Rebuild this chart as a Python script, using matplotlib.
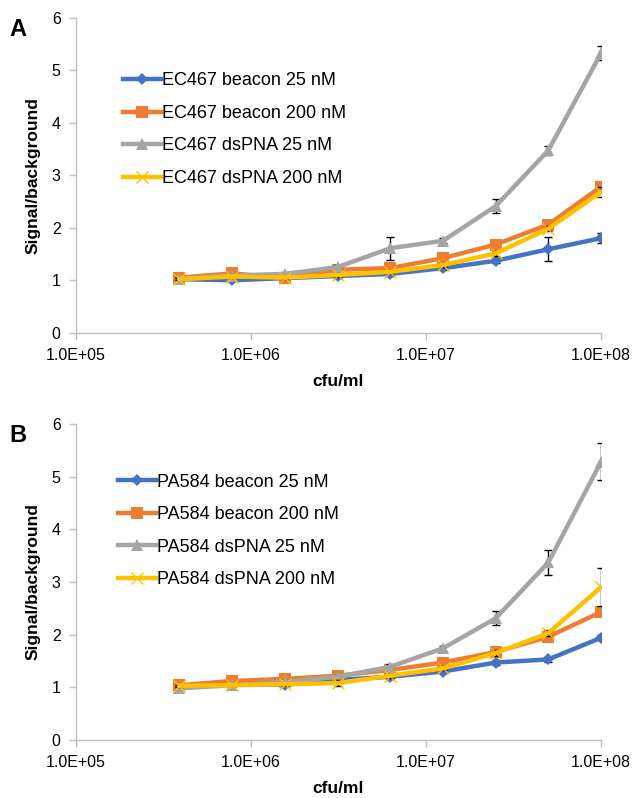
import matplotlib
matplotlib.use("Agg")
import matplotlib.pyplot as plt
import numpy as np

plt.rcParams['font.family'] = ['Liberation Sans', 'DejaVu Sans']

# x values (cfu/ml)
cfu = [3.90625e5, 7.8125e5, 1.5625e6, 3.125e6, 6.25e6, 1.25e7, 2.5e7, 5e7, 1e8]

# Panel A
a_labels = ["EC467 beacon 25 nM", "EC467 beacon 200 nM", "EC467 dsPNA 25 nM", "EC467 dsPNA 200 nM"]
a_beacon25 = [1.02, 1.00, 1.04, 1.08, 1.12, 1.23, 1.37, 1.59, 1.80]
a_beacon200 = [1.05, 1.13, 1.04, 1.20, 1.23, 1.42, 1.68, 2.06, 2.78]
a_dspna25 = [1.03, 1.09, 1.12, 1.25, 1.61, 1.75, 2.41, 3.47, 5.32]
a_dspna200 = [1.02, 1.07, 1.05, 1.10, 1.16, 1.29, 1.51, 1.98, 2.68]
a_err_beacon25 = [0.02, 0.02, 0.02, 0.03, 0.04, 0.03, 0.05, 0.23, 0.10]
a_err_beacon200 = [0.03, 0.03, 0.03, 0.03, 0.04, 0.04, 0.05, 0.05, 0.05]
a_err_dspna25 = [0.03, 0.03, 0.03, 0.04, 0.22, 0.05, 0.13, 0.09, 0.13]
a_err_dspna200 = [0.02, 0.02, 0.02, 0.03, 0.03, 0.04, 0.05, 0.05, 0.10]

# Panel B
b_labels = ["PA584 beacon 25 nM", "PA584 beacon 200 nM", "PA584 dsPNA 25 nM", "PA584 dsPNA 200 nM"]
b_beacon25 = [1.00, 1.06, 1.05, 1.14, 1.20, 1.30, 1.47, 1.53, 1.94]
b_beacon200 = [1.04, 1.12, 1.16, 1.22, 1.33, 1.47, 1.67, 1.96, 2.43]
b_dspna25 = [0.98, 1.04, 1.10, 1.20, 1.39, 1.74, 2.31, 3.37, 5.28]
b_dspna200 = [1.03, 1.04, 1.06, 1.08, 1.22, 1.36, 1.65, 2.03, 2.90]
b_err_beacon25 = [0.02, 0.02, 0.03, 0.03, 0.04, 0.03, 0.05, 0.04, 0.05]
b_err_beacon200 = [0.02, 0.02, 0.03, 0.03, 0.04, 0.04, 0.05, 0.05, 0.05]
b_err_dspna25 = [0.03, 0.03, 0.03, 0.04, 0.06, 0.05, 0.13, 0.24, 0.35]
b_err_dspna200 = [0.02, 0.02, 0.03, 0.06, 0.04, 0.04, 0.05, 0.05, 0.36]

x_ticks = [1e5, 1e6, 1e7, 1e8]
x_ticklabels = ["1.0E+05", "1.0E+06", "1.0E+07", "1.0E+08"]
y_ticks = [0, 1, 2, 3, 4, 5, 6]

colors = ["#4472C4", "#ED7D31", "#A5A5A5", "#FFC000"]
markers = ["D", "s", "^", "x"]
msizes = [6.5, 8.5, 8.5, 9]

fig = plt.figure(figsize=(6.38, 7.98), dpi=100)
axA = fig.add_axes([0.119, 0.583, 0.823, 0.395])
axB = fig.add_axes([0.119, 0.0727, 0.823, 0.396])

def draw(ax, series, errs, labels, leg_anchor, letter):
    handles = []
    for i, (vals, er) in enumerate(zip(series, errs)):
        ax.errorbar(cfu, vals, yerr=er, fmt='none', ecolor='black',
                    elinewidth=1.0, capsize=3, capthick=1.0, zorder=2 + i * 2)
        mkw = dict(markeredgewidth=1.0) if markers[i] == 'x' else dict(markeredgewidth=0)
        h, = ax.plot(cfu, vals, color=colors[i], lw=3.2, marker=markers[i],
                     ms=msizes[i], markerfacecolor=colors[i], markeredgecolor=colors[i],
                     label=labels[i], zorder=3 + i * 2, **mkw)
        handles.append(h)
    ax.set_xscale('log')
    ax.set_xlim(1e5, 1e8)
    ax.set_ylim(0, 6)
    ax.set_xticks(x_ticks)
    ax.set_xticklabels(x_ticklabels)
    ax.minorticks_off()
    ax.set_yticks(y_ticks)
    for s in ['top', 'right']:
        ax.spines[s].set_visible(False)
    for s in ['left', 'bottom']:
        ax.spines[s].set_color('#BFBFBF')
        ax.spines[s].set_linewidth(1.0)
    ax.tick_params(axis='both', colors='#BFBFBF', labelcolor='black',
                   labelsize=11.5, length=5, width=1.0, direction='out')
    ax.tick_params(axis='x', pad=6)
    ax.tick_params(axis='y', pad=6)
    ax.set_xlabel("cfu/ml", fontsize=12.5, fontweight='bold', labelpad=8)
    ax.set_ylabel("Signal/background", fontsize=12.5, fontweight='bold', labelpad=8)
    ax.legend(handles=handles, loc='upper left', bbox_to_anchor=leg_anchor,
              frameon=False, fontsize=13, handlelength=2.1, handletextpad=0.05,
              labelspacing=0.86, borderpad=0, borderaxespad=0)
    ax.text(-0.126, 1.0, letter, transform=ax.transAxes, fontsize=17,
            fontweight='bold', va='top', ha='left')

draw(axA, [a_beacon25, a_beacon200, a_dspna25, a_dspna200],
     [a_err_beacon25, a_err_beacon200, a_err_dspna25, a_err_dspna200],
     a_labels, (0.0895, 0.826), "A")
draw(axB, [b_beacon25, b_beacon200, b_dspna25, b_dspna200],
     [b_err_beacon25, b_err_beacon200, b_err_dspna25, b_err_dspna200],
     b_labels, (0.08, 0.843), "B")

fig.savefig("out.png", dpi=100)
